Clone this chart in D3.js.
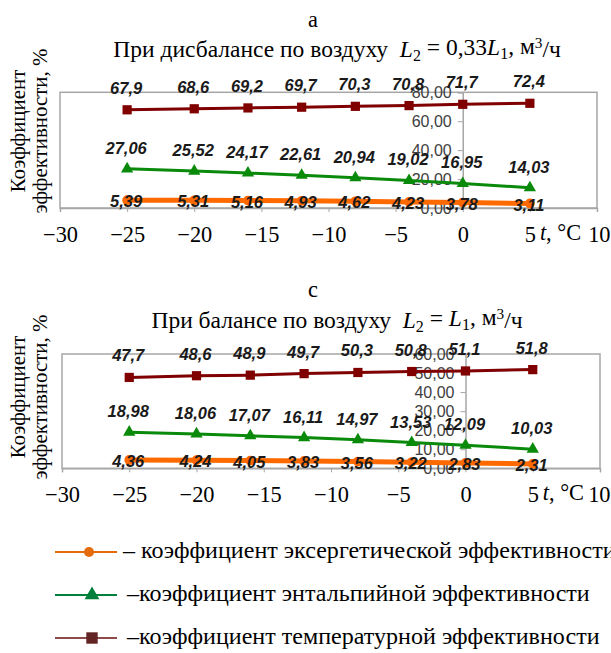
<!DOCTYPE html>
<html>
<head>
<meta charset="utf-8">
<script src="https://cdn.jsdelivr.net/npm/d3@7"></script>
<style>
  body { margin: 0; background: #fff; }
  svg { display: block; }
</style>
</head>
<body>
<div id="chart"></div>
<script>
// temperature of outside air, °C
var temps = [-25, -20, -16, -12, -8, -4, 0, 5];

// panel a: imbalance L2 = 0.33 L1
var tempEffA = [67.9, 68.6, 69.2, 69.7, 70.3, 70.8, 71.7, 72.4];
var enthEffA = [27.06, 25.52, 24.17, 22.61, 20.94, 19.02, 16.95, 14.03];
var exergEffA = [5.39, 5.31, 5.16, 4.93, 4.62, 4.23, 3.78, 3.11];

// panel c: balance L2 = L1
var tempEffC = [47.7, 48.6, 48.9, 49.7, 50.3, 50.8, 51.1, 51.8];
var enthEffC = [18.98, 18.06, 17.07, 16.11, 14.97, 13.53, 12.09, 10.03];
var exergEffC = [4.36, 4.24, 4.05, 3.83, 3.56, 3.22, 2.83, 2.31];

var xTicks = [-30, -25, -20, -15, -10, -5, 0, 5, 10];
var yTicksA = [0, 20, 40, 60, 80];
var yTicksC = [0, 10, 20, 30, 40, 50, 60];

var legendNames = [
  "– коэффициент эксергетической эффективности",
  "–коэффициент энтальпийной эффективности",
  "–коэффициент температурной эффективности"
];

var W = 611, H = 653;
var SERIF = '"Liberation Serif", "Times New Roman", serif';
var SANS = '"Liberation Sans", Arial, sans-serif';

var svg = d3.select("#chart")
  .append("svg")
  .attr("width", W)
  .attr("height", H);

var ORANGE = "#ff6a00", GREEN = "#0a8a0a", MAROON = "#800000", GRID = "#a6a6a6";

function comma(v, digits) {
  return d3.format("." + digits + "f")(v).replace(".", ",");
}
function labelStr(v) {
  return String(v).replace(".", ",");
}

// font size that makes a string take the given width
function fitSize(str, family, target) {
  var t = svg.append("text").style("font-family", family).style("font-size", "100px").text(str);
  var w = t.node().getComputedTextLength();
  t.remove();
  return 100 * target / w;
}

var titleSize = fitSize("При дисбалансе по воздуху\u00a0\u00a0L2 = 0,33L1, м3/ч", SERIF, 462);
var legendSize = fitSize(legendNames[1], SERIF, 463);
var yTitleSize = fitSize("эффективности, %", SERIF, 165);
var xTickSize = fitSize("\u221225", SERIF, 35);

function drawPanel(p) {
  var g = svg.append("g");

  // letter and title
  g.append("text")
    .attr("x", 313).attr("y", p.letterY)
    .attr("text-anchor", "middle")
    .style("font-family", SERIF)
    .style("font-size", (titleSize * 0.95) + "px")
    .text(p.letter);

  var t = g.append("text")
    .attr("x", p.titleX).attr("y", p.titleY)
    .attr("text-anchor", "middle")
    .style("font-family", SERIF)
    .style("font-size", titleSize + "px");
  t.append("tspan").text(p.titleText + "\u00a0\u00a0");
  t.append("tspan").style("font-style", "italic").text("L");
  t.append("tspan").attr("dy", "0.22em").style("font-size", "0.68em").text("2");
  t.append("tspan").attr("dy", "-0.22em").text(" = " + p.titleCoef);
  t.append("tspan").style("font-style", "italic").text("L");
  t.append("tspan").attr("dy", "0.22em").style("font-size", "0.68em").text("1");
  t.append("tspan").attr("dy", "-0.22em").text(", м");
  t.append("tspan").attr("dy", "-0.38em").style("font-size", "0.65em").text("3");
  t.append("tspan").attr("dy", "0.38em").text("/ч");

  // y title, two rotated lines
  var yt = g.append("text")
    .attr("transform", "translate(0," + p.yTitleY + ") rotate(-90)")
    .attr("text-anchor", "middle")
    .style("font-family", SERIF)
    .style("font-size", yTitleSize + "px");
  yt.append("tspan").attr("x", 0).attr("y", 25).text("Коэффициент");
  yt.append("tspan").attr("x", 0).attr("y", 47).text("эффективности, %");

  var x = d3.scaleLinear().domain([-30, 10]).range([p.left, p.right]);
  var y = d3.scaleLinear().domain([0, p.yMax]).range([p.bottom, p.top]);

  // plot area frame
  g.append("rect")
    .attr("x", p.left).attr("y", p.top)
    .attr("width", p.right - p.left).attr("height", p.bottom - p.top)
    .attr("fill", "none").attr("stroke", GRID).attr("stroke-width", 1.5);

  // x axis along the bottom of the frame
  var xAxis = g.append("g")
    .attr("transform", "translate(0," + p.bottom + ")")
    .call(d3.axisBottom(x).tickValues(xTicks).tickSize(4).tickPadding(14)
      .tickFormat(d => d < 0 ? "\u2212" + Math.abs(d) : String(d)));
  xAxis.select(".domain").attr("stroke", GRID).attr("stroke-width", 1.5);
  xAxis.selectAll(".tick line").attr("stroke", GRID);
  xAxis.selectAll(".tick text")
    .style("font-family", SERIF)
    .style("font-size", xTickSize + "px")
    .attr("fill", "#000");
  // last label is pushed to the page edge
  xAxis.selectAll(".tick text").filter(d => d === 10)
    .attr("text-anchor", "end").attr("x", W - 1 - p.right);

  g.append("text")
    .attr("x", x(5) + 10).attr("y", p.bottom + 32)
    .style("font-family", SERIF)
    .style("font-size", xTickSize + "px")
    .call(s => {
      s.append("tspan").style("font-style", "italic").text("t");
      s.append("tspan").text(", °C");
    });

  // y axis crossing at t = 0
  var yAxis = g.append("g")
    .attr("transform", "translate(" + x(0) + ",0)")
    .call(d3.axisLeft(y).tickValues(p.yTicks).tickSize(5).tickPadding(6)
      .tickFormat(d => comma(d, 2)));
  yAxis.select(".domain").attr("stroke", GRID).attr("stroke-width", 1.5);
  yAxis.selectAll(".tick line").attr("stroke", GRID);
  yAxis.selectAll(".tick text")
    .style("font-family", SANS)
    .style("font-size", "16px")
    .attr("fill", "#404040");

  var line = d3.line().x((d, i) => x(temps[i])).y(d => y(d));

  var series = [
    { vals: p.temp, color: MAROON, width: 3, sym: d3.symbolSquare, size: 85, lab: -16 },
    { vals: p.enth, color: GREEN, width: 3, sym: d3.symbolTriangle, size: 65, lab: -15 },
    { vals: p.exerg, color: ORANGE, width: 5, sym: d3.symbolCircle, size: 75, lab: 7 }
  ];

  series.forEach(function (s) {
    g.append("path")
      .datum(s.vals)
      .attr("d", line)
      .attr("fill", "none")
      .attr("stroke", s.color)
      .attr("stroke-width", s.width);
    g.selectAll(null)
      .data(s.vals)
      .enter()
      .append("path")
      .attr("transform", (d, i) => "translate(" + x(temps[i]) + "," + y(d) + ")")
      .attr("d", d3.symbol().type(s.sym).size(s.size))
      .attr("fill", s.color);
  });

  series.forEach(function (s) {
    g.selectAll(null)
      .data(s.vals)
      .enter()
      .append("text")
      .attr("x", (d, i) => x(temps[i]) - 1)
      .attr("y", d => y(d) + s.lab)
      .attr("text-anchor", "middle")
      .style("font-family", SANS)
      .style("font-size", "16.5px")
      .style("font-weight", "bold")
      .style("font-style", "italic")
      .attr("fill", "#1a1a1a")
      .text(d => labelStr(d));
  });
}

drawPanel({
  letter: "а", letterY: 27,
  titleText: "При дисбалансе по воздуху", titleCoef: "0,33", titleX: 337, titleY: 57,
  yTitleY: 131,
  left: 60, right: 597, top: 92.3, bottom: 208,
  yMax: 80, yTicks: yTicksA,
  temp: tempEffA, enth: enthEffA, exerg: exergEffA
});

drawPanel({
  letter: "с", letterY: 297,
  titleText: "При балансе по воздуху", titleCoef: "", titleX: 337, titleY: 328,
  yTitleY: 397,
  left: 62, right: 600, top: 354, bottom: 468.3,
  yMax: 60, yTicks: yTicksC,
  temp: tempEffC, enth: enthEffC, exerg: exergEffC
});

// legend
var legendRows = [
  { color: "#e46c0a", lineColor: "#e46c0a", sym: d3.symbolCircle, size: 80, y: 552, mx: 89, tx: 123 },
  { color: "#00803a", lineColor: "#00803a", sym: d3.symbolTriangle, size: 95, y: 595, mx: 92, tx: 127 },
  { color: "#632523", lineColor: "#8c4a4a", sym: d3.symbolSquare, size: 130, y: 638, mx: 92, tx: 127 }
];

var legend = svg.append("g");
legendRows.forEach(function (r, i) {
  legend.append("line")
    .attr("x1", 55).attr("x2", 117)
    .attr("y1", r.y).attr("y2", r.y)
    .attr("stroke", r.lineColor).attr("stroke-width", 2);
  legend.append("path")
    .attr("transform", "translate(" + r.mx + "," + r.y + ")")
    .attr("d", d3.symbol().type(r.sym).size(r.size))
    .attr("fill", r.color);
  legend.append("text")
    .attr("x", r.tx).attr("y", r.y + 6)
    .style("font-family", SERIF)
    .style("font-size", legendSize + "px")
    .text(legendNames[i]);
});
</script>
</body>
</html>
